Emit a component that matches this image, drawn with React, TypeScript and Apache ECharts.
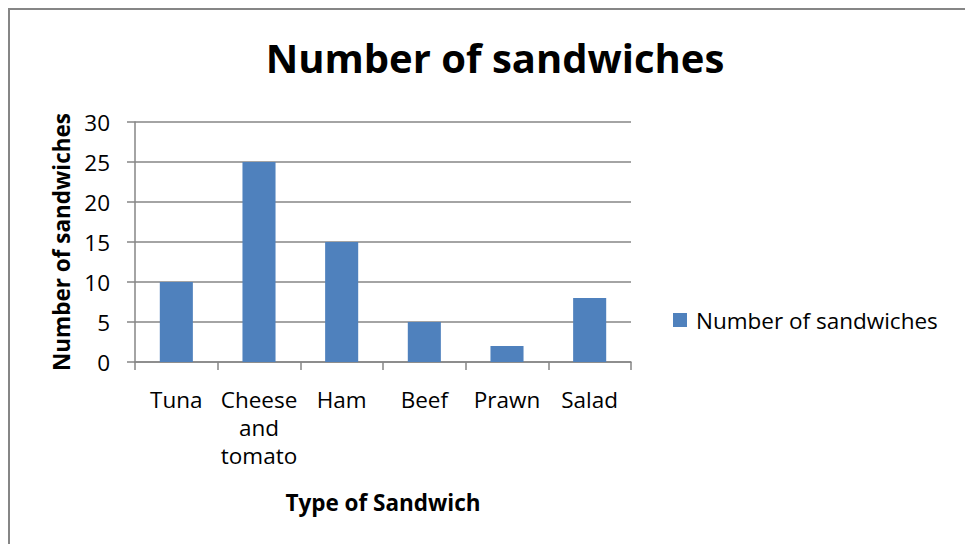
import React, { useEffect, useRef } from "react";
import * as echarts from "echarts";

const categories = ["Tuna", "Cheese\nand\ntomato", "Ham", "Beef", "Prawn", "Salad"];
const values = [10, 25, 15, 5, 2, 8];
const seriesName = "Number of sandwiches";
const titleText = "Number of sandwiches";
const xAxisName = "Type of Sandwich";
const yAxisName = "Number of sandwiches";

const FONT = "Open Sans";
const FS = 22.5;

export default function App() {
  const ref = useRef<HTMLDivElement>(null);
  useEffect(() => {
    if (!ref.current) return;
    const chart = echarts.init(ref.current, undefined, { renderer: "svg" });
    chart.setOption({
      animation: false,
      backgroundColor: "#ffffff",
      textStyle: { fontFamily: FONT },
      title: {
        text: titleText,
        left: 490,
        top: 32,
        textAlign: "center",
        textStyle: { fontFamily: FONT, fontWeight: "bold", fontSize: 40, color: "#000" },
      },
      graphic: [
        {
          type: "rect",
          shape: { x: 9, y: 9, width: 1000, height: 600 },
          style: { fill: "none", stroke: "#868686", lineWidth: 2 },
          silent: true,
        },
      ],
      legend: {
        left: 673,
        top: 308,
        padding: 0,
        itemWidth: 14,
        itemHeight: 14,
        itemGap: 5,
        icon: "rect",
        textStyle: {
          fontFamily: FONT,
          fontSize: FS,
          lineHeight: 24,
          color: "#000",
          padding: [0, 0, 0, 4],
        },
        data: [seriesName],
      },
      grid: { left: 135, right: 334, top: 122, bottom: 182, containLabel: false },
      xAxis: {
        type: "category",
        data: categories,
        name: xAxisName,
        nameLocation: "middle",
        nameGap: 129,
        nameTextStyle: { fontFamily: FONT, fontWeight: "bold", fontSize: FS, color: "#000" },
        axisLine: { lineStyle: { color: "#868686", width: 1.5 } },
        axisTick: { show: true, length: 8, lineStyle: { color: "#868686", width: 1.5 } },
        axisLabel: {
          interval: 0,
          margin: 23,
          fontFamily: FONT,
          fontSize: FS,
          color: "#000",
          lineHeight: 28,
        },
      },
      yAxis: {
        type: "value",
        min: 0,
        max: 30,
        interval: 5,
        name: yAxisName,
        nameLocation: "middle",
        nameGap: 62,
        nameTextStyle: { fontFamily: FONT, fontWeight: "bold", fontSize: FS, color: "#000" },
        axisLine: { show: true, lineStyle: { color: "#868686", width: 1.5 } },
        axisTick: { show: true, length: 8, lineStyle: { color: "#868686", width: 1.5 } },
        axisLabel: { margin: 25, fontFamily: FONT, fontSize: FS, color: "#000" },
        splitLine: { lineStyle: { color: "#868686", width: 1.5 } },
      },
      series: [
        {
          name: seriesName,
          type: "bar",
          data: values,
          barWidth: "40%",
          itemStyle: { color: "#4F81BD" },
        },
      ],
    });
    return () => chart.dispose();
  }, []);
  return (
    <div
      ref={ref}
      style={{ position: "fixed", left: 0, top: 0, width: 965, height: 544 }}
    />
  );
}
